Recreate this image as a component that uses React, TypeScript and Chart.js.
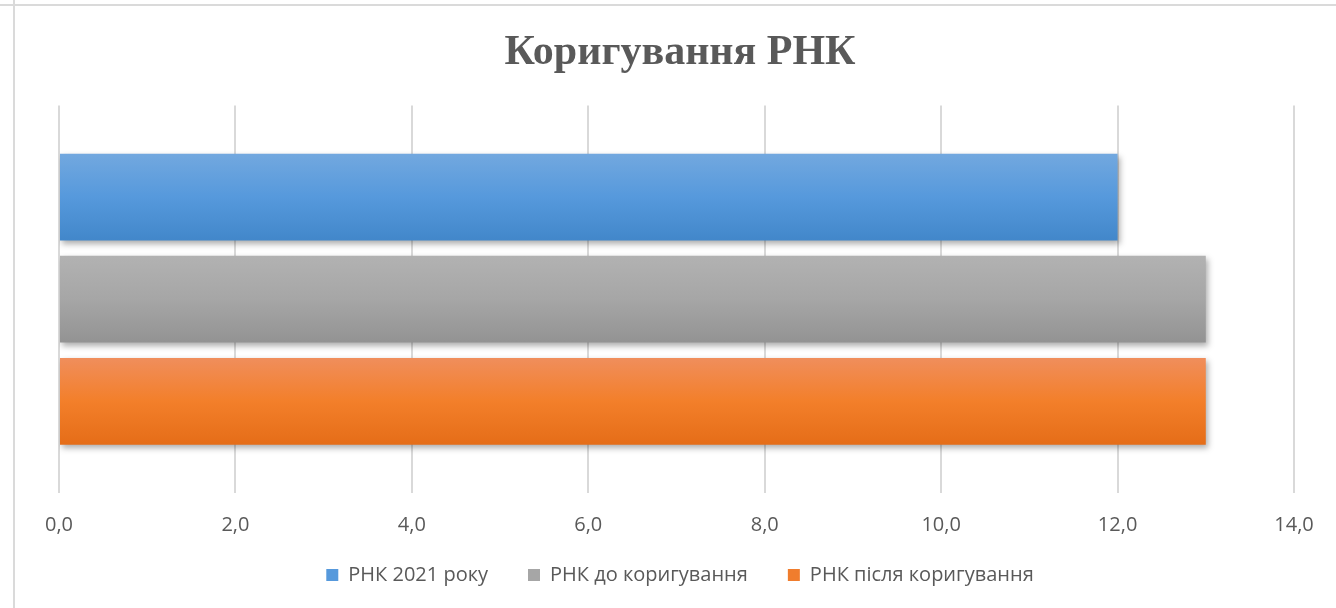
import React, { useEffect, useRef } from "react";
import { Chart, registerables } from "chart.js";

Chart.register(...registerables);

const TITLE = "Коригування РНК";
const CATEGORIES = [""];
const SERIES_NAMES = ["РНК 2021 року", "РНК до коригування", "РНК після коригування"];
const SERIES_2021 = [12.0];
const SERIES_BEFORE = [13.0];
const SERIES_AFTER = [13.0];
const X_TICK_LABELS = ["0,0", "2,0", "4,0", "6,0", "8,0", "10,0", "12,0", "14,0"];
const X_MIN = 0;
const X_MAX = 14;
const X_STEP = 2;

const GRADIENTS = [
  ["rgb(114,168,223)", "rgb(86,153,220)", "rgb(66,135,202)"],
  ["rgb(178,178,178)", "rgb(166,166,166)", "rgb(147,147,147)"],
  ["rgb(240,142,92)", "rgb(243,127,42)", "rgb(229,109,24)"],
];
const LEGEND_COLORS = ["rgb(86,153,220)", "rgb(166,166,166)", "rgb(240,125,45)"];

const CAT_PCT = 0.79;
const BAR_PCT = 0.85;

export default function App() {
  const ref = useRef<HTMLCanvasElement | null>(null);

  useEffect(() => {
    if (!ref.current) return;

    const gradFor = (ctx: any, i: number) => {
      const chart = ctx.chart;
      const area = chart.chartArea;
      if (!area) return GRADIENTS[i][1];
      const band = (area.bottom - area.top) * CAT_PCT;
      const slot = band / 3;
      const center = (area.top + area.bottom) / 2;
      const top = center - band / 2 + slot * i + (slot * (1 - BAR_PCT)) / 2;
      const h = slot * BAR_PCT;
      const g = chart.ctx.createLinearGradient(0, top, 0, top + h);
      g.addColorStop(0, GRADIENTS[i][0]);
      g.addColorStop(0.5, GRADIENTS[i][1]);
      g.addColorStop(1, GRADIENTS[i][2]);
      return g;
    };

    const framePlugin = {
      id: "frame",
      beforeDraw(chart: any) {
        const c = chart.ctx;
        c.save();
        c.strokeStyle = "#dadada";
        c.lineWidth = 2;
        c.beginPath();
        c.moveTo(0, 5);
        c.lineTo(chart.width, 5);
        c.moveTo(14, 0);
        c.lineTo(14, chart.height);
        c.stroke();
        c.restore();
      },
    };

    const legendShiftPlugin = {
      id: "legendShift",
      afterLayout(chart: any) {
        const lg = chart.legend;
        if (lg) {
          lg.top -= 16;
          lg.bottom -= 16;
        }
      },
    };

    const shadowPlugin = {
      id: "barShadow",
      beforeDatasetsDraw(chart: any) {
        const c = chart.ctx;
        c.save();
        c.shadowColor = "rgba(0,0,0,0.32)";
        c.shadowBlur = 6;
        c.shadowOffsetX = 2;
        c.shadowOffsetY = 3;
      },
      afterDatasetsDraw(chart: any) {
        chart.ctx.restore();
      },
    };

    const seriesData = [SERIES_2021, SERIES_BEFORE, SERIES_AFTER];

    const chart = new Chart(ref.current, {
      type: "bar",
      data: {
        labels: CATEGORIES,
        datasets: seriesData.map((d, i) => ({
          label: SERIES_NAMES[i],
          data: d,
          backgroundColor: (ctx: any) => gradFor(ctx, i),
          borderWidth: 0,
          categoryPercentage: CAT_PCT,
          barPercentage: BAR_PCT,
        })),
      },
      options: {
        indexAxis: "y",
        animation: false,
        responsive: false,
        maintainAspectRatio: false,
        layout: { padding: { left: 24, right: 0, top: 0, bottom: 0 } },
        scales: {
          x: {
            type: "linear",
            min: X_MIN,
            max: X_MAX,
            position: "bottom",
            grid: { color: "#d9d9d9", lineWidth: 2, drawTicks: false },
            border: { display: false },
            ticks: {
              stepSize: X_STEP,
              padding: 20,
              color: "#595959",
              font: { family: "'Open Sans'", size: 20 },
              callback: (_v: any, idx: number) => X_TICK_LABELS[idx],
            },
            afterFit: (s: any) => {
              s.height = 48;
            },
          },
          y: {
            type: "category",
            position: "left",
            grid: { display: false },
            border: { display: false },
            ticks: { display: false },
            afterFit: (s: any) => {
              s.width = 35;
            },
          },
          y2: {
            type: "linear",
            position: "right",
            display: true,
            grid: { display: false },
            border: { display: false },
            ticks: { display: false },
            afterFit: (s: any) => {
              s.width = 42;
            },
          },
        },
        plugins: {
          title: {
            display: true,
            text: TITLE,
            color: "#595959",
            font: { family: "'Liberation Serif'", size: 42, weight: "bold" },
            padding: { top: 28, bottom: 27 },
          },
          legend: {
            display: true,
            position: "bottom",
            maxHeight: 67,
            labels: {
              boxWidth: 12,
              boxHeight: 12,
              padding: 40,
              color: "#595959",
              font: { family: "'Open Sans'", size: 20 },
              generateLabels: (ch: any) =>
                ch.data.datasets.map((ds: any, i: number) => ({
                  text: ds.label,
                  fillStyle: LEGEND_COLORS[i],
                  strokeStyle: LEGEND_COLORS[i],
                  lineWidth: 0,
                  hidden: false,
                  datasetIndex: i,
                  fontColor: "#595959",
                })),
            },
          },
          tooltip: { enabled: false },
        },
      },
      plugins: [framePlugin, legendShiftPlugin, shadowPlugin],
    } as any);

    return () => chart.destroy();
  }, []);

  return (
    <div style={{ position: "fixed", left: 0, top: 0, width: 1336, height: 608, background: "#fff" }}>
      <canvas ref={ref} width={1336} height={608} style={{ width: 1336, height: 608, display: "block" }} />
    </div>
  );
}
